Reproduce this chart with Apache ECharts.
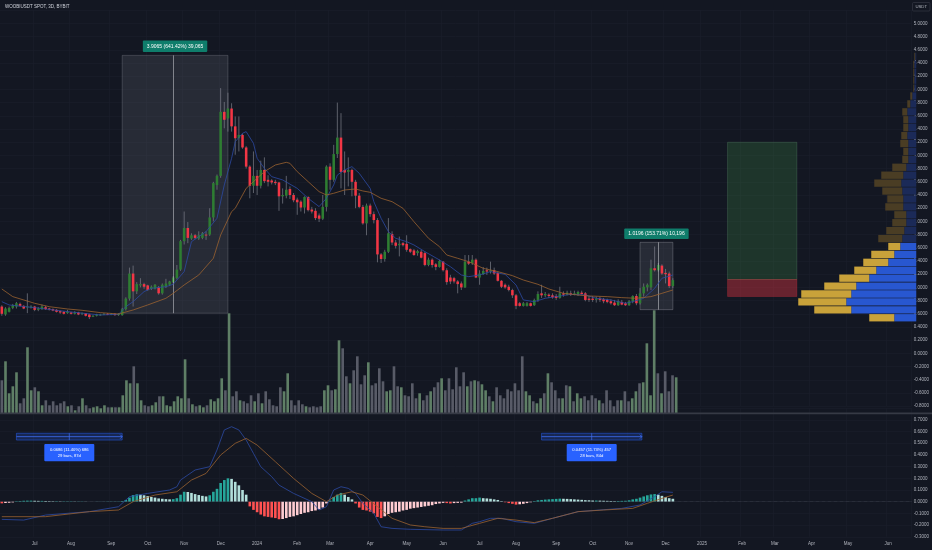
<!DOCTYPE html>
<html><head><meta charset="utf-8">
<script src="https://cdn.jsdelivr.net/npm/echarts@6/dist/echarts.min.js"></script>
<style>html,body{margin:0;padding:0;background:#131722;}#c{width:932px;height:550px;}</style>
</head><body><div id="c"></div>
<script>
// ---------- categories (3-day candles) ----------
const START_UTC = Date.UTC(2023, 5, 5);
const STEP_DAYS = 3;
const N_CATS = 250;
const monthNames = ['Jan','Feb','Mar','Apr','May','Jun','Jul','Aug','Sep','Oct','Nov','Dec'];
const cats = [];
for (let k = 0; k < N_CATS; k++) cats.push(new Date(START_UTC + k * STEP_DAYS * 86400000).toISOString().slice(0, 10));

// ---------- price candles [open, close, low, high] ----------
const ohlc = [
[0.71,0.60,0.57,0.73],[0.59,0.68,0.57,0.70],[0.63,0.69,0.62,0.71],[0.69,0.73,0.67,0.75],[0.71,0.76,0.68,0.78],
[0.75,0.72,0.71,0.77],[0.72,0.68,0.67,0.73],[0.70,0.71,0.61,0.91],[0.70,0.71,0.68,0.73],[0.71,0.66,0.64,0.72],
[0.66,0.68,0.64,0.70],[0.67,0.71,0.66,0.74],[0.70,0.67,0.66,0.72],[0.68,0.67,0.65,0.69],[0.67,0.65,0.64,0.68],
[0.66,0.63,0.62,0.67],[0.64,0.62,0.60,0.65],[0.63,0.60,0.59,0.64],[0.61,0.63,0.60,0.66],[0.62,0.60,0.59,0.63],
[0.60,0.62,0.59,0.64],[0.62,0.59,0.58,0.63],[0.60,0.61,0.58,0.62],[0.61,0.57,0.56,0.61],[0.59,0.55,0.52,0.60],
[0.56,0.57,0.55,0.58],[0.57,0.59,0.56,0.60],[0.58,0.59,0.57,0.60],[0.59,0.60,0.58,0.61],[0.60,0.59,0.58,0.61],
[0.59,0.60,0.58,0.61],[0.60,0.58,0.57,0.61],[0.58,0.60,0.57,0.61],[0.58,0.67,0.57,0.69],[0.67,0.83,0.65,0.85],
[0.83,1.21,0.80,1.30],[1.21,0.94,0.71,1.33],[0.94,1.05,0.90,1.08],[1.03,1.05,1.00,1.14],[1.05,1.01,0.98,1.07],
[1.03,0.96,0.95,1.04],[0.98,1.01,0.96,1.03],[0.98,1.04,0.97,1.05],[1.00,0.91,0.89,1.02],[0.91,1.04,0.89,1.06],
[1.01,1.06,0.99,1.13],[1.04,1.09,1.02,1.10],[1.08,1.15,1.06,1.17],[1.14,1.27,1.12,1.34],[1.27,1.70,1.25,1.72],
[1.70,1.90,1.65,2.15],[1.90,1.75,1.67,1.99],[1.74,1.79,1.72,1.82],[1.79,1.75,1.73,1.81],[1.74,1.79,1.72,1.85],
[1.75,1.82,1.73,1.84],[1.80,1.79,1.72,1.85],[1.80,2.06,1.78,2.20],[2.06,2.58,2.00,2.60],[2.55,2.69,2.48,2.71],
[2.69,3.66,2.66,4.02],[3.66,3.54,3.41,3.81],[3.56,3.71,3.36,3.95],[3.71,3.44,3.36,3.79],[3.44,3.26,3.01,3.59],
[3.26,3.31,3.06,3.59],[3.31,3.12,3.10,3.33],[3.12,2.83,2.80,3.14],[2.83,2.54,2.35,2.85],[2.54,2.69,2.43,3.06],
[2.69,2.54,2.40,2.78],[2.54,2.78,2.50,2.92],[2.78,2.61,2.58,2.97],[2.63,2.60,2.53,2.70],[2.62,2.59,2.56,2.64],
[2.60,2.58,2.55,2.63],[2.59,2.38,2.16,2.60],[2.38,2.40,2.27,2.50],[2.39,2.48,2.35,2.69],[2.49,2.40,2.34,2.53],
[2.40,2.32,2.29,2.43],[2.33,2.29,2.10,2.36],[2.30,2.21,2.15,2.32],[2.21,2.37,2.12,2.38],[2.37,2.17,2.15,2.38],
[2.18,2.15,2.12,2.22],[2.16,2.05,2.02,2.20],[2.09,2.04,1.99,2.12],[2.04,2.22,2.02,2.40],[2.22,2.83,2.15,2.85],
[2.83,2.63,2.48,2.88],[2.63,3.02,2.60,3.16],[3.02,3.27,2.96,3.80],[3.27,2.75,2.50,3.64],[2.78,2.74,2.40,3.06],
[2.75,2.78,2.53,2.97],[2.78,2.60,2.38,2.80],[2.60,2.39,2.20,2.63],[2.39,2.22,2.20,2.43],[2.22,1.97,1.95,2.25],
[1.97,2.24,1.79,2.27],[2.24,2.11,2.07,2.27],[2.11,2.02,1.97,2.15],[2.02,1.50,1.38,2.05],[1.50,1.43,1.37,1.52],
[1.43,1.54,1.39,1.57],[1.54,1.82,1.52,2.05],[1.81,1.68,1.64,1.85],[1.68,1.63,1.59,1.72],[1.64,1.66,1.47,1.77],
[1.67,1.64,1.62,1.69],[1.66,1.57,1.54,1.79],[1.58,1.54,1.52,1.59],[1.56,1.49,1.48,1.58],[1.52,1.55,1.48,1.57],
[1.54,1.45,1.44,1.57],[1.52,1.34,1.32,1.54],[1.34,1.42,1.32,1.45],[1.42,1.34,1.30,1.44],[1.35,1.31,1.26,1.37],
[1.31,1.40,1.30,1.42],[1.39,1.26,1.24,1.40],[1.26,1.08,1.04,1.29],[1.15,1.09,1.05,1.19],[1.14,1.09,1.06,1.16],
[1.09,1.05,0.91,1.11],[1.06,1.00,0.96,1.09],[1.00,1.39,0.99,1.49],[1.39,1.36,1.34,1.49],[1.37,1.42,1.34,1.49],
[1.42,1.15,1.14,1.44],[1.15,1.21,1.04,1.26],[1.20,1.25,1.19,1.31],[1.26,1.24,1.19,1.30],[1.24,1.26,1.21,1.39],
[1.26,1.21,1.19,1.30],[1.22,1.10,1.09,1.24],[1.10,1.01,0.99,1.11],[1.04,1.00,0.98,1.06],[1.01,0.96,0.94,1.04],
[0.96,0.88,0.84,0.98],[0.88,0.72,0.67,0.90],[0.76,0.72,0.71,0.78],[0.72,0.76,0.71,0.78],[0.72,0.76,0.71,0.78],
[0.76,0.72,0.71,0.77],[0.73,0.81,0.72,0.83],[0.81,0.90,0.78,0.94],[0.91,0.88,0.84,1.04],[0.88,0.90,0.85,0.93],
[0.89,0.87,0.84,0.91],[0.88,0.85,0.83,0.91],[0.87,0.84,0.81,0.90],[0.84,0.91,0.83,1.01],[0.91,0.89,0.86,0.94],
[0.89,0.92,0.88,0.95],[0.91,0.89,0.87,0.95],[0.89,0.91,0.88,0.95],[0.90,0.93,0.87,0.95],[0.92,0.90,0.89,0.95],
[0.91,0.81,0.79,0.93],[0.83,0.81,0.78,0.87],[0.83,0.81,0.78,0.87],[0.81,0.83,0.77,0.86],[0.83,0.81,0.78,0.86],
[0.82,0.79,0.76,0.84],[0.81,0.78,0.76,0.83],[0.79,0.76,0.74,0.82],[0.77,0.73,0.72,0.81],[0.73,0.79,0.72,0.82],
[0.78,0.74,0.73,0.81],[0.76,0.73,0.72,0.78],[0.73,0.79,0.72,0.81],[0.79,0.87,0.76,0.88],[0.87,0.76,0.73,0.90],
[0.76,0.91,0.74,0.99],[0.91,1.01,0.86,1.06],[1.00,1.04,0.94,1.06],[1.00,1.29,0.96,1.42],[1.29,1.26,1.24,1.62],
[1.26,1.34,1.24,1.37],[1.33,1.21,1.19,1.35],[1.22,1.20,1.06,1.28],[1.21,1.02,0.99,1.24],[1.02,1.11,0.99,1.14]
];

// ---------- volume per candle ----------
const volumes = [
33,52,20,27,41,10,15,66,23,26,22,8,
13,8,12,8,10,12,7,8,3,7,15,8,5,6,7,5,8,6,6,6,6,
18,33,30,47,30,13,8,7,8,11,17,17,8,7,12,17,15,54,
15,9,7,8,6,8,14,12,15,35,23,100,17,22,13,12,10,
18,12,20,10,22,14,8,7,26,22,40,13,8,13,9,7,6,7,6,7,23,
28,23,24,73,65,37,30,43,57,29,38,51,28,30,45,32,22,23,47,27,26,
18,17,30,15,20,13,18,22,26,31,35,23,35,24,46,27,41,27,32,33,32,
29,23,17,12,26,18,15,24,22,30,23,57,22,18,12,10,15,20,40,31,
23,15,15,28,27,12,20,15,17,13,18,15,13,10,23,13,7,13,13,22,12,15,
22,30,31,70,18,103,40,20,42,22,38,36
];

// ---------- MACD ----------
const macdHist = [
-0.014,-0.011,-0.009,-0.006,
0.004,0.006,0.008,0.009,0.009,0.008,0.007,0.007,0.006,0.005,0.004,0.004,0.003,0.003,0.003,0.003,0.002,0.002,0.002,0.001,0.000,0.000,0.001,0.001,0.001,0.002,0.002,0.002,0.002,
0.006,0.015,0.035,0.057,0.063,0.060,
0.055,0.048,0.040,0.035,0.028,0.025,0.022,0.020,0.022,0.030,
0.060,0.085,0.083,0.075,0.065,0.057,0.050,0.045,0.055,0.085,0.110,0.160,0.185,0.200,0.195,0.170,0.140,0.100,0.060,
-0.040,-0.070,-0.090,-0.110,-0.125,-0.130,-0.135,-0.140,-0.150,-0.148,-0.140,-0.130,-0.125,-0.115,-0.105,-0.095,-0.090,-0.080,-0.075,-0.065,-0.050,-0.015,
0.010,0.040,0.060,0.075,0.060,0.040,0.020,
-0.015,-0.050,-0.070,-0.075,-0.085,-0.100,-0.130,-0.140,-0.125,-0.105,-0.095,-0.090,-0.085,-0.075,-0.070,-0.060,-0.055,-0.050,-0.045,-0.040,-0.035,-0.030,-0.020,-0.015,-0.010,-0.012,-0.015,-0.012,-0.010,-0.008,
0.010,0.020,0.030,0.030,0.035,0.030,0.028,0.025,0.020,0.015,0.005,
-0.005,-0.012,-0.018,-0.025,-0.022,-0.018,-0.012,-0.005,
0.005,0.012,0.015,0.018,0.020,0.022,0.024,0.026,0.025,0.024,0.022,0.020,0.018,0.016,0.013,0.012,0.010,0.010,0.009,0.008,0.007,0.006,0.005,0.006,0.007,0.008,0.012,
0.020,0.025,0.035,0.045,0.055,0.062,0.065,0.060,0.050,0.040,0.030,0.025
];
const macdLine = [[0,-0.151],[6,-0.157],[12,-0.114],[24,-0.085],[32,-0.043],[35,0.043],[40,0.071],[46,0.100],[48,0.128],[49,0.185],[53,0.271],[57,0.299],[59,0.442],[61,0.613],[63,0.641],[65,0.613],[67,0.527],[69,0.413],[71,0.299],[74,0.214],[76,0.142],[80,0.071],[85,0.0],[87,-0.071],[89,-0.043],[91,0.100],[93,0.128],[95,0.114],[97,0.071],[99,-0.014],[102,-0.100],[104,-0.214],[107,-0.228],[112,-0.236],[121,-0.242],[126,-0.242],[129,-0.185],[131,-0.171],[134,-0.142],[137,-0.142],[141,-0.171],[146,-0.185],[151,-0.142],[158,-0.085],[164,-0.071],[170,-0.057],[175,-0.028],[179,0.043],[181,0.085],[184,0.080]];
const signalLine = [[0,-0.128],[12,-0.128],[24,-0.085],[32,-0.071],[36,0.0],[42,0.057],[48,0.085],[52,0.185],[56,0.242],[60,0.399],[64,0.499],[67,0.541],[70,0.484],[75,0.342],[80,0.199],[85,0.071],[89,0.0],[92,0.057],[96,0.085],[99,0.057],[103,-0.043],[107,-0.142],[112,-0.199],[116,-0.214],[121,-0.228],[126,-0.228],[131,-0.185],[136,-0.142],[141,-0.157],[146,-0.179],[151,-0.142],[158,-0.085],[165,-0.071],[173,-0.057],[177,-0.014],[181,0.028],[184,0.057]];

// ---------- moving averages on price ----------
const maFast = [[0,0.784],[2,0.734],[9,0.693],[18,0.633],[27,0.582],[32,0.592],[34,0.708],[36,0.784],[39,0.936],[41,0.986],[45,1.011],[47,1.047],[50,1.239],[52,1.693],[56,1.845],[59,2.047],[61,2.552],[63,2.956],[64,3.208],[66,3.335],[67,3.360],[69,3.183],[70,2.956],[72,2.804],[74,2.678],[77,2.628],[81,2.501],[84,2.350],[87,2.224],[89,2.350],[91,2.552],[92,2.703],[94,2.779],[96,2.830],[98,2.729],[101,2.501],[102,2.299],[104,2.047],[106,1.845],[108,1.744],[111,1.693],[113,1.643],[116,1.542],[120,1.416],[123,1.314],[126,1.188],[128,1.163],[131,1.188],[134,1.239],[138,1.198],[141,1.037],[143,0.810],[146,0.784],[149,0.835],[152,0.860],[156,0.895],[160,0.885],[163,0.835],[167,0.810],[171,0.759],[173,0.784],[176,0.835],[179,0.986],[181,1.138],[184,1.188]];
const maSlow = [[0,0.976],[3,0.860],[9,0.759],[13,0.708],[18,0.673],[22,0.653],[27,0.618],[32,0.597],[36,0.658],[40,0.734],[45,0.835],[47,0.910],[50,1.037],[54,1.188],[58,1.441],[60,1.794],[63,2.148],[64,2.198],[67,2.501],[70,2.653],[72,2.754],[75,2.855],[78,2.895],[79,2.880],[81,2.754],[84,2.602],[87,2.451],[89,2.400],[91,2.426],[94,2.476],[97,2.491],[99,2.461],[101,2.441],[104,2.350],[107,2.299],[110,2.198],[113,1.996],[117,1.744],[120,1.618],[122,1.491],[125,1.441],[128,1.390],[129,1.365],[132,1.289],[136,1.239],[140,1.178],[143,1.112],[147,1.047],[150,0.976],[154,0.910],[158,0.885],[161,0.870],[166,0.860],[170,0.845],[174,0.835],[178,0.860],[181,0.910],[184,0.961]];

// ---------- volume profile (rows of 0.12) ----------
const vpLow  = [0.48,0.60,0.72,0.84,0.96,1.08,1.20,1.32,1.44,1.56,1.68,1.80,1.92,2.04,2.16,2.28,2.40,2.52,2.64,2.76,2.88,3.00,3.12,3.24,3.36,3.48,3.60,3.72,3.84,3.96,4.08,4.20,4.32,4.44];
const vpUp   = [22,65,70,65,60,47,40,28,22,16,14,12,10,10,13,13,14,15,13,10,8,8,8,9,8,8,9,6,4,2,2,2,2,1];
const vpDown = [25,37,48,50,32,30,22,25,23,12,24,18,14,12,18,16,20,27,22,14,6,5,8,6,5,5,5,3,2,1,1,1,1,1];
const VP_ROW = 0.12, VP_BRIGHT_ROWS = 10;

// ---------- drawings ----------
const measure1 = {from: 33, to: 62, low: 0.609, high: 4.5155, mid: 47, text: '3.9065 (641.42%) 39,065'};
const measure2 = {from: 175, to: 184, low: 0.663, high: 1.683, mid: 180, text: '1.0196 (153.71%) 10,196'};
const longPos = {from: 199, to: 218, target: 3.199, entry: 1.12, stop: 0.863};
const ranges = [
  {from: 4, to: 33, top: 0.585, bot: 0.527, lblTop: 0.493, lblBot: 0.345, lines: '0.0686 (11.40%) 686\n29 bars, 87d'},
  {from: 148, to: 175.5, top: 0.585, bot: 0.527, lblTop: 0.493, lblBot: 0.345, lines: '0.0457 (11.73%) 457\n28 bars, 84d'}
];

const FONT = 'Liberation Sans, Arial, sans-serif';
const AX = '#b2b5be', GRIDC = '#1b1f2b';
const UP = '#2e7d32', DN = '#f23645';

const monthStart = (idx) => {
  if (idx <= 0) return false;
  return cats[idx].slice(5, 7) !== cats[idx - 1].slice(5, 7);
};
const monthLabel = (v) => {
  const m = parseInt(v.slice(5, 7), 10) - 1;
  return m === 0 ? v.slice(0, 4) : monthNames[m];
};

const G = {left: 0, right: 15.75};
const grids = [
  Object.assign({top: 10.2, height: 396}, G),
  Object.assign({top: 303.3, height: 110}, G),
  Object.assign({top: 408.1, height: 128.7}, G),
  Object.assign({top: 10.2, height: 396}, G)
];

const catAxis = (gi, showLabel) => ({
  type: 'category', gridIndex: gi, data: cats, boundaryGap: true,
  axisLine: {show: false}, axisTick: {show: false},
  axisLabel: showLabel ? {show: true, interval: (i) => monthStart(i), formatter: (v) => monthLabel(v),
    color: AX, fontSize: 4.5, fontFamily: FONT, margin: 4} : {show: false},
  splitLine: {show: gi !== 1, interval: (i) => monthStart(i), lineStyle: {color: GRIDC, width: 0.6}}
});

const tag = (val, text, bg, fg, fs) => ({
  yAxis: val,
  lineStyle: {opacity: 0},
  label: {show: true, position: 'end', formatter: text, backgroundColor: bg, color: fg || '#ffffff',
    fontSize: fs || 4.2, lineHeight: (fs || 4.2) + 0.4, fontFamily: FONT, padding: [1.2, 1.5, 0.8, 1.5], distance: 1.5}
});

const histColors = macdHist.map((v, i) => {
  const p = i > 0 ? macdHist[i - 1] : 0;
  if (v >= 0) return v >= p ? '#26a69a' : '#b2dfdb';
  return v < p ? '#ff5252' : '#ffcdd2';
});

const option = {
  backgroundColor: '#131722',
  animation: false,
  grid: grids,
  xAxis: [
    catAxis(0, false),
    catAxis(1, false),
    catAxis(2, true),
    {type: 'value', gridIndex: 3, inverse: true, min: 0, max: 916.25, show: false}
  ],
  yAxis: [
    {type: 'value', gridIndex: 0, position: 'right', min: -0.8, max: 5.2, interval: 0.2,
      axisLine: {show: false}, axisTick: {show: false},
      axisLabel: {color: AX, fontSize: 4.5, fontFamily: FONT, margin: 2, showMaxLabel: false, formatter: (v) => v.toFixed(4)},
      splitLine: {lineStyle: {color: GRIDC, width: 0.6}}},
    {type: 'value', gridIndex: 1, min: 0, max: 110, show: false},
    {type: 'value', gridIndex: 2, position: 'right', min: -0.3, max: 0.8, interval: 0.1,
      axisLine: {show: false}, axisTick: {show: false},
      axisLabel: {color: AX, fontSize: 4.5, fontFamily: FONT, margin: 2, showMaxLabel: false, formatter: (v) => v.toFixed(4)},
      splitLine: {lineStyle: {color: GRIDC, width: 0.6}}},
    {type: 'value', gridIndex: 3, min: -0.8, max: 5.2, show: false}
  ],
  series: [
    // volume profile
    {
      type: 'custom', xAxisIndex: 3, yAxisIndex: 3, silent: true, z: 1,
      data: vpLow.map((lo, i) => [vpUp[i], vpDown[i], lo, lo + VP_ROW, i < VP_BRIGHT_ROWS ? 1 : 0]),
      encode: {x: [0, 1], y: [2, 3]},
      renderItem: (params, api) => {
        const up = api.value(0), dn = api.value(1), lo = api.value(2), hi = api.value(3), br = api.value(4);
        const a = api.coord([0, hi]), b = api.coord([up, lo]), c = api.coord([up + dn, lo]);
        const h = b[1] - a[1] - 0.6;
        return {type: 'group', children: [
          {type: 'rect', shape: {x: b[0], y: a[1] + 0.3, width: a[0] - b[0], height: h}, style: {fill: br ? '#2857d0' : '#1b2a58'}},
          {type: 'rect', shape: {x: c[0], y: a[1] + 0.3, width: b[0] - c[0], height: h}, style: {fill: br ? '#c9a23a' : '#4a3d24'}}
        ]};
      }
    },
    // volume bars
    {
      type: 'bar', xAxisIndex: 1, yAxisIndex: 1, barWidth: '72%', silent: true, z: 2,
      data: volumes.map((v, i) => ({value: v, itemStyle: {color: ohlc[i][1] >= ohlc[i][0] ? '#5f7f66' : '#585b67'}})),
      markLine: {silent: true, symbol: ['none', 'none'], animation: false,
        data: [tag(volumes[volumes.length - 1], '36.12K', '#a9cdb0', '#131722')]}
    },
    // candles
    {
      type: 'custom', xAxisIndex: 0, yAxisIndex: 0, silent: true, z: 4,
      data: ohlc.map((d, i) => [i, d[0], d[1], d[2], d[3]]),
      encode: {x: 0, y: [1, 2, 3, 4]},
      renderItem: (params, api) => {
        const x = api.value(0), o = api.value(1), c = api.value(2), l = api.value(3), h = api.value(4);
        const pO = api.coord([x, o]), pC = api.coord([x, c]), pL = api.coord([x, l]), pH = api.coord([x, h]);
        const bw = api.size([1, 0])[0] * 0.7;
        const top = Math.min(pO[1], pC[1]);
        let hh = Math.abs(pO[1] - pC[1]); if (hh < 0.9) hh = 0.9;
        return {type: 'group', children: [
          {type: 'line', shape: {x1: pH[0], y1: pH[1], x2: pL[0], y2: pL[1]}, style: {stroke: '#7d808a', lineWidth: 0.7}},
          {type: 'rect', shape: {x: pO[0] - bw / 2, y: top, width: bw, height: hh}, style: {fill: c >= o ? UP : DN}}
        ]};
      }
    },
    // fast MA
    {type: 'line', xAxisIndex: 0, yAxisIndex: 0, silent: true, symbol: 'none', z: 5,
      data: maFast.map(p => [cats[p[0]], p[1]]), lineStyle: {color: '#2c4aa3', width: 0.8}},
    // slow MA (hosts drawings)
    {type: 'line', xAxisIndex: 0, yAxisIndex: 0, silent: true, symbol: 'none', z: 5,
      data: maSlow.map(p => [cats[p[0]], p[1]]), lineStyle: {color: '#9a6230', width: 0.8},
      markArea: {silent: true, animation: false, data: [
        [{xAxis: cats[measure1.from], yAxis: measure1.low,
          itemStyle: {color: 'rgba(120,123,134,0.2)', borderColor: 'rgba(200,200,210,0.35)', borderWidth: 0.6},
          label: {show: true, position: 'top', distance: 3, formatter: measure1.text, color: '#ffffff', fontSize: 5, fontFamily: FONT,
            backgroundColor: '#0f7d6b', padding: [3.5, 4, 3, 4], borderRadius: 1}},
         {xAxis: cats[measure1.to], yAxis: measure1.high}],
        [{xAxis: cats[measure2.from], yAxis: measure2.low,
          itemStyle: {color: 'rgba(120,123,134,0.2)', borderColor: 'rgba(200,200,210,0.45)', borderWidth: 0.6},
          label: {show: true, position: 'top', distance: 3, formatter: measure2.text, color: '#ffffff', fontSize: 5, fontFamily: FONT,
            backgroundColor: '#0f7d6b', padding: [3, 4, 2.5, 4], borderRadius: 1}},
         {xAxis: cats[measure2.to], yAxis: measure2.high}],
        [{xAxis: cats[longPos.from], yAxis: longPos.target,
          itemStyle: {color: 'rgba(76,175,80,0.2)', borderColor: 'rgba(120,180,130,0.45)', borderWidth: 0.5}},
         {xAxis: cats[longPos.to], yAxis: longPos.entry}],
        [{xAxis: cats[longPos.from], yAxis: longPos.entry,
          itemStyle: {color: 'rgba(242,54,69,0.38)', borderColor: 'rgba(242,54,69,0.5)', borderWidth: 0.5}},
         {xAxis: cats[longPos.to], yAxis: longPos.stop}]
      ]},
      markLine: {silent: true, symbol: ['none', 'none'], animation: false, data: [
        [{coord: [cats[measure1.mid], measure1.low], lineStyle: {color: 'rgba(225,225,230,0.7)', width: 0.7, type: 'solid'}, label: {show: false}},
         {coord: [cats[measure1.mid], measure1.high]}],
        [{coord: [cats[measure2.mid], measure2.low], lineStyle: {color: 'rgba(225,225,230,0.7)', width: 0.7, type: 'solid'}, label: {show: false}},
         {coord: [cats[measure2.mid], measure2.high]}],
        tag(longPos.target, '3.1990', '#089981'),
        tag(1.19, '1.1766', '#2962ff'),
        tag(1.08, '1.1070\n25:13:17', '#0c8a55', '#ffffff', 3.6),
        tag(0.985, '0.9847', '#d1d4dc', '#131722'),
        tag(0.91, '0.9128', '#ff9800'),
        tag(0.82, '0.8261', '#f23645')
      ]}
    },
    // MACD histogram
    {type: 'bar', xAxisIndex: 2, yAxisIndex: 2, barWidth: '72%', silent: true, z: 2,
      data: macdHist.map((v, i) => ({value: v, itemStyle: {color: histColors[i]}})),
      markLine: {silent: true, symbol: ['none', 'none'], animation: false, data: [
        {yAxis: 0, lineStyle: {color: '#4a4e5a', width: 0.6, type: 'dotted'}, label: {show: false}},
        tag(0.105, '0.0792', '#2962ff'),
        tag(0.058, '0.0571', '#ff9800'),
        tag(0.022, '0.0250', '#b2dfdb', '#131722')
      ]}},
    {type: 'line', xAxisIndex: 2, yAxisIndex: 2, silent: true, symbol: 'none', z: 4,
      data: macdLine.map(p => [cats[p[0]], p[1]]), lineStyle: {color: '#2c4aa3', width: 0.8}},
    {type: 'line', xAxisIndex: 2, yAxisIndex: 2, silent: true, symbol: 'none', z: 4,
      data: signalLine.map(p => [cats[p[0]], p[1]]), lineStyle: {color: '#9a6230', width: 0.8}}
  ]
};

const chart = echarts.init(document.getElementById('c'), null, {renderer: 'canvas'});
chart.setOption(option);

// ---------- overlay graphics (pixel positions taken from the chart's own scales) ----------
const x0p = chart.convertToPixel({xAxisIndex: 2}, 0);
const x1p = chart.convertToPixel({xAxisIndex: 2}, 1);
const X = (k) => x0p + (x1p - x0p) * k;
const Y = (v) => chart.convertToPixel({yAxisIndex: 2}, v);

const gfx = [
  {type: 'text', silent: true, style: {text: 'WOOBIUSDT SPOT, 3D, BYBIT', x: 5, y: 7, fill: '#d1d4dc', fontSize: 4.5, fontFamily: FONT, verticalAlign: 'middle'}},
  {type: 'rect', silent: true, shape: {x: 912.5, y: 2.5, width: 17.5, height: 8.5, r: 1}, style: {fill: '#131722', stroke: '#3a3e4a', lineWidth: 0.6}},
  {type: 'text', silent: true, style: {text: 'USDT', x: 921.25, y: 6.8, fill: AX, fontSize: 4.3, fontFamily: FONT, align: 'center', verticalAlign: 'middle'}},
  {type: 'rect', silent: true, z: 10, shape: {x: 0, y: 412.6, width: 932, height: 1.6}, style: {fill: '#363a45'}}
];
ranges.forEach(r => {
  const xa = X(r.from), xb = X(r.to), yt = Y(r.top), yb = Y(r.bot), ym = (yt + yb) / 2, xm = (xa + xb) / 2;
  gfx.push({type: 'rect', silent: true, z: 10, shape: {x: xa, y: yt, width: xb - xa, height: yb - yt}, style: {fill: 'rgba(41,98,255,0.22)', stroke: 'rgba(41,98,255,0.8)', lineWidth: 0.6}});
  gfx.push({type: 'line', silent: true, z: 10, shape: {x1: xa, y1: ym, x2: xb, y2: ym}, style: {stroke: '#3f6df0', lineWidth: 0.8}});
  gfx.push({type: 'polyline', silent: true, z: 10, shape: {points: [[xb - 2, ym - 2], [xb, ym], [xb - 2, ym + 2]]}, style: {stroke: '#3f6df0', lineWidth: 0.8, fill: null}});
  gfx.push({type: 'line', silent: true, z: 10, shape: {x1: xm, y1: yt, x2: xm, y2: yb}, style: {stroke: '#3f6df0', lineWidth: 0.7}});
  const lt = Y(r.lblTop), lb = Y(r.lblBot);
  gfx.push({type: 'rect', silent: true, z: 10, shape: {x: xm - 25, y: lt, width: 50, height: lb - lt, r: 1}, style: {fill: '#2962ff'}});
  gfx.push({type: 'text', silent: true, z: 11, style: {text: r.lines, x: xm, y: (lt + lb) / 2, fill: '#ffffff', fontSize: 4.2, lineHeight: 6, fontFamily: FONT, align: 'center', verticalAlign: 'middle'}});
});
chart.setOption({graphic: gfx});
</script>
</body></html>
